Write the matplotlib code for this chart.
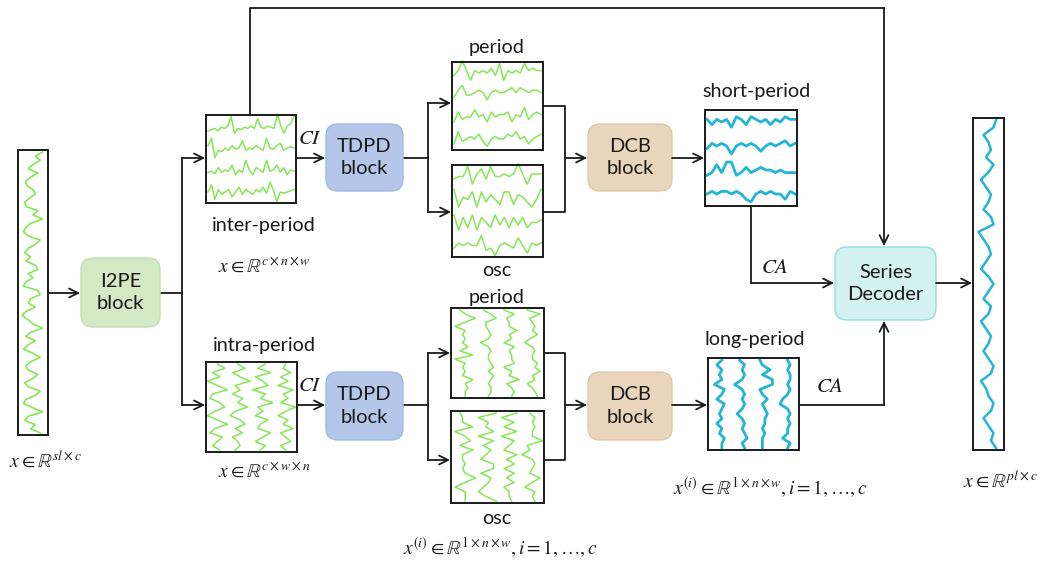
import numpy as np
import matplotlib.pyplot as plt
from matplotlib.patches import FancyBboxPatch, Rectangle

plt.rcParams['font.family'] = ['Lato', 'DejaVu Sans']
plt.rcParams['mathtext.fontset'] = 'stix'

# series drawn inside the boxes (0 = low, 1 = high)
input_series = [0.9, 0.6, 0.8, 0.5, 0.3, 0.7, 0.4, 0.2, 0.25, 0.5, 0.6, 0.35, 0.15, 0.2, 0.7,
                0.5, 0.9, 0.4, 0.2, 0.1, 0.3, 0.8, 0.6, 0.3, 0.15, 0.4, 0.2, 0.6, 0.7, 0.3,
                0.5, 0.2, 0.1, 0.7, 0.8, 0.4, 0.3, 0.6, 0.2, 0.05, 0.3, 0.5, 0.9, 0.4, 0.2,
                0.6, 0.3, 0.1, 0.5, 0.8, 0.4, 0.2, 0.3, 0.7, 0.5, 0.15, 0.3, 0.8, 0.6, 0.2,
                0.1, 0.5, 0.9, 0.3, 0.15, 0.6, 0.4, 0.8]
output_series = [0.8, 0.7, 0.3, 0.5, 0.6, 0.4, 0.7, 0.5, 0.2, 0.4, 0.6, 0.5, 0.3, 0.6, 0.7,
                 0.1, 0.3, 0.5, 0.6, 0.4, 0.2, 0.5, 0.7, 0.5, 0.3, 0.6, 0.5, 0.2, 0.4, 0.6,
                 0.5, 0.3, 0.5, 0.7, 0.6, 0.2, 0.4, 0.5, 0.7, 0.6, 0.3, 0.5, 0.7, 0.6, 0.8]
inter_rows = [
    [0.3, 0.35, 0.4, 0.3, 0.45, 0.4, 0.5, 0.9, 0.2, 0.4, 0.35, 0.45, 0.4, 0.5, 0.4, 0.8, 0.45, 0.4, 0.5, 0.45, 0.4, 1.0, 0.5, 0.2, 0.5, 0.6, 0.9],
    [0.6, 0.9, 0.1, 0.4, 0.35, 0.5, 0.4, 0.6, 0.45, 0.5, 0.8, 0.4, 0.5, 0.45, 0.6, 0.5, 0.4, 0.9, 0.5, 0.45, 0.6, 0.7, 0.4, 0.5, 0.55, 0.5],
    [0.4, 0.45, 0.35, 0.6, 0.4, 0.5, 0.45, 0.7, 0.3, 0.5, 0.4, 0.9, 0.5, 0.3, 0.6, 0.5, 0.4, 0.9, 0.45, 0.5, 0.7, 0.4, 0.6, 0.3, 0.5, 0.45],
    [0.5, 0.8, 0.2, 0.6, 0.4, 0.5, 0.6, 0.3, 0.5, 0.7, 0.4, 0.6, 0.5, 0.4, 0.6, 0.5, 0.7, 0.45, 0.9, 0.6, 0.1, 0.5, 0.45, 0.5, 0.55, 0.6],
]
intra_rows = [
    [0.5, 0.8, 0.3, 0.6, 0.1, 0.5, 0.9, 0.3, 0.2, 0.6, 0.8, 0.4, 0.1, 0.5, 0.9, 0.4, 0.2, 0.7, 0.5, 0.3, 0.6],
    [0.4, 0.7, 0.2, 0.5, 0.9, 0.3, 0.5, 0.2, 0.6, 0.4, 0.8, 0.3, 0.1, 0.5, 0.7, 0.3, 0.6, 0.2, 0.4, 0.5, 0.3],
    [0.6, 0.3, 0.8, 0.2, 0.5, 0.7, 0.1, 0.6, 0.4, 0.9, 0.3, 0.5, 0.2, 0.7, 0.4, 0.3, 0.8, 0.5, 0.2, 0.6, 0.4],
    [0.5, 0.4, 0.7, 0.3, 0.6, 0.2, 0.8, 0.4, 0.6, 0.3, 0.9, 0.5, 0.2, 0.6, 0.4, 0.8, 0.3, 0.5, 0.7, 0.3, 0.5],
]
period_rows = [
    [0.4, 0.6, 1.0, 0.6, 0.2, 0.6, 0.5, 0.6, 0.5, 0.7, 0.4, 0.9, 0.2, 0.6, 0.5, 0.6, 0.5, 0.9, 0.6, 0.7, 0.6, 0.6],
    [0.4, 0.7, 0.9, 0.5, 0.5, 0.6, 0.7, 0.6, 0.3, 0.6, 0.7, 0.6, 0.6, 0.7, 0.8, 0.6, 0.8, 0.7, 0.6, 0.7, 0.7, 0.6],
    [0.3, 0.7, 0.4, 0.5, 0.5, 0.8, 0.5, 0.6, 0.3, 0.7, 0.5, 0.6, 0.6, 0.7, 0.3, 0.6, 0.5, 0.9, 0.4, 0.6, 0.7, 0.6],
    [0.3, 0.8, 0.4, 0.5, 0.6, 0.5, 0.7, 0.4, 0.2, 0.5, 0.6, 0.5, 0.5, 0.7, 0.6, 0.8, 0.5, 0.6, 0.3, 0.5, 0.6, 0.7],
]
osc_rows = [
    [0.4, 0.5, 0.5, 0.9, 0.2, 0.6, 0.8, 0.4, 0.9, 0.5, 0.5, 0.6, 0.5, 0.6, 1.0, 0.6, 0.2, 0.6, 0.6, 0.6],
    [0.9, 0.2, 0.6, 0.5, 0.8, 0.2, 0.8, 0.4, 0.7, 0.5, 0.3, 0.8, 0.8, 0.3, 0.7, 0.6, 0.4, 0.2, 0.5, 0.9],
    [0.8, 0.2, 0.7, 0.3, 0.8, 0.2, 0.7, 0.5, 0.3, 0.8, 0.4, 0.7, 0.3, 0.7, 0.4, 0.7, 0.3, 0.5, 0.5, 0.6],
    [0.4, 0.6, 0.5, 0.6, 0.5, 0.5, 0.9, 0.3, 0.4, 0.1, 0.5, 0.6, 0.5, 0.4, 0.8, 0.5, 0.2, 0.6, 0.5, 0.6],
]
short_rows = [
    [0.6, 0.4, 0.6, 0.5, 0.6, 0.3, 0.7, 0.6, 0.4, 0.7, 0.6, 0.5, 0.6, 0.4, 0.6, 0.5, 0.7, 0.6, 0.6],
    [0.4, 0.6, 0.5, 0.6, 0.5, 0.2, 0.5, 0.6, 0.5, 0.6, 0.5, 0.3, 0.5, 0.6, 0.5, 0.6, 0.7, 0.5, 0.6],
    [0.3, 0.4, 0.7, 0.4, 0.8, 0.8, 0.3, 0.4, 0.6, 0.4, 0.5, 0.6, 0.5, 0.5, 0.4, 0.5, 0.4, 0.4, 0.4],
    [0.5, 0.6, 0.5, 0.6, 0.6, 0.5, 0.6, 0.5, 0.3, 0.2, 0.5, 0.6, 0.5, 0.6, 0.5, 0.5, 0.3, 0.6, 0.5],
]

green = '#86e656'
cyan = '#24b4d6'
ink = '#1a1a1a'

fig = plt.figure(figsize=(10.45, 5.63), dpi=100)
ax = fig.add_axes([0, 0, 1, 1])
ax.set_xlim(0, 1045)
ax.set_ylim(563, 0)
ax.axis('off')


def frame(x, y, w, h):
    ax.add_patch(Rectangle((x, y), w, h, fill=False, ec=ink, lw=1.4, zorder=3))


def rows_in(x, y, w, h, rows, color, lw, vertical=False, amp=1.1):
    n = len(rows)
    band = (w if vertical else h) / n
    for i, r in enumerate(rows):
        r = np.asarray(r, dtype=float)
        t = np.linspace(0, 1, len(r))
        if vertical:
            ys = y + 2 + t * (h - 4)
            xs = x + band * (i + 0.5) + band * amp * (r - 0.5)
        else:
            xs = x + 2 + t * (w - 4)
            ys = y + band * (i + 0.5) + band * amp * (0.5 - r)
        ax.plot(xs, ys, color=color, lw=lw, zorder=2, solid_joinstyle='round')


def block(x, y, w, h, label, fc, ec):
    ax.add_patch(FancyBboxPatch((x, y), w, h, boxstyle='round,pad=0,rounding_size=12',
                                fc=fc, ec=ec, lw=1.0, zorder=3))
    ax.text(x + w / 2, y + h / 2, label, ha='center', va='center', fontsize=14.5,
            color=ink, linespacing=1.4, zorder=4)


def arrow(p0, p1):
    ax.annotate('', xy=p1, xytext=p0,
                arrowprops=dict(arrowstyle='->', lw=1.3, color=ink, shrinkA=0, shrinkB=0,
                                mutation_scale=16), zorder=5)


def line(xs, ys):
    ax.plot(xs, ys, color=ink, lw=1.3, zorder=1)


def label(x, y, s, size=14.2):
    ax.text(x, y, s, ha='center', va='center', fontsize=size, color=ink)


# input series
frame(18, 150, 30, 285)
v = np.asarray(input_series)
ax.plot(21 + v * 24, np.linspace(152, 433, len(v)), color=green, lw=1.2, zorder=2)
label(46, 460, r'$x \in \mathbb{R}^{sl \times c}$', 14)
arrow((48, 293), (80, 293))

block(81, 258, 79, 69, 'I2PE\nblock', '#d5e8c6', '#c3dfae')
line([160, 182], [293, 293])
line([182, 182], [158, 405])
arrow((182, 158), (205, 158))
arrow((182, 405), (205, 405))

# inter-period branch (top)
frame(206, 115, 90, 88)
rows_in(206, 115, 90, 88, inter_rows, green, 1.1)
label(264, 225, 'inter-period')
label(264, 265, r'$x \in \mathbb{R}^{c \times n \times w}$', 14)
ax.text(310, 138, r'$CI$', ha='center', va='center', fontsize=15, color=ink)
arrow((296, 158), (325, 158))
line([250, 250, 884], [115, 8, 8])
arrow((884, 8), (884, 246))

block(326, 124, 77, 67, 'TDPD\nblock', '#b4c7e8', '#a2b8e0')
line([403, 428], [158, 158])
line([428, 428], [103, 212])
arrow((428, 103), (451, 103))
arrow((428, 212), (451, 212))

frame(452, 62, 91, 88)
rows_in(452, 62, 91, 88, period_rows, green, 1.1)
label(497, 47, 'period')
frame(452, 165, 91, 92)
rows_in(452, 165, 91, 92, osc_rows, green, 1.1)
label(497, 271, 'osc')
line([543, 565, 565, 543], [106, 106, 212, 212])
arrow((565, 158), (587, 158))

block(588, 124, 84, 67, 'DCB\nblock', '#e8d5bc', '#dfc9ab')
arrow((672, 158), (704, 158))

frame(705, 110, 92, 96)
rows_in(705, 110, 92, 96, short_rows, cyan, 2.0)
label(757, 92, 'short-period')
line([751, 751], [206, 283])
arrow((751, 283), (834, 283))
ax.text(775, 267, r'$CA$', ha='center', va='center', fontsize=15, color=ink)

block(835, 247, 101, 73, 'Series\nDecoder', '#d4f2f1', '#90dede')
arrow((936, 283), (972, 283))

frame(973, 118, 31, 332)
v = np.asarray(output_series)
ax.plot(976 + v * 25, np.linspace(120, 448, len(v)), color=cyan, lw=1.8, zorder=2)
label(1000, 480, r'$x \in \mathbb{R}^{pl \times c}$', 14)

# intra-period branch (bottom)
frame(206, 362, 91, 90)
rows_in(206, 362, 91, 90, intra_rows, green, 1.1, vertical=True)
label(264, 345, 'intra-period')
label(264, 470, r'$x \in \mathbb{R}^{c \times w \times n}$', 14)
ax.text(310, 385, r'$CI$', ha='center', va='center', fontsize=15, color=ink)
arrow((297, 405), (325, 405))

block(326, 372, 77, 68, 'TDPD\nblock', '#b4c7e8', '#a2b8e0')
line([403, 428], [405, 405])
line([428, 428], [353, 460])
arrow((428, 353), (450, 353))
arrow((428, 460), (450, 460))

frame(451, 308, 93, 90)
rows_in(451, 308, 93, 90, period_rows, green, 1.1, vertical=True)
label(497, 297, 'period')
frame(451, 411, 93, 92)
rows_in(451, 411, 93, 92, osc_rows, green, 1.1, vertical=True)
label(497, 518, 'osc')
label(500, 548, r'$x^{(i)} \in \mathbb{R}^{1 \times n \times w}, i = 1, \ldots, c$', 14)
line([544, 565, 565, 544], [353, 353, 460, 460])
arrow((565, 405), (587, 405))

block(588, 372, 84, 68, 'DCB\nblock', '#e8d5bc', '#dfc9ab')
arrow((672, 405), (707, 405))

frame(708, 358, 91, 92)
rows_in(708, 358, 91, 92, short_rows, cyan, 2.0, vertical=True)
label(755, 340, 'long-period')
label(770, 488, r'$x^{(i)} \in \mathbb{R}^{1 \times n \times w}, i = 1, \ldots, c$', 14)
line([799, 884], [405, 405])
arrow((884, 405), (884, 321))
ax.text(830, 386, r'$CA$', ha='center', va='center', fontsize=15, color=ink)

fig.savefig('out.png', dpi=100)
